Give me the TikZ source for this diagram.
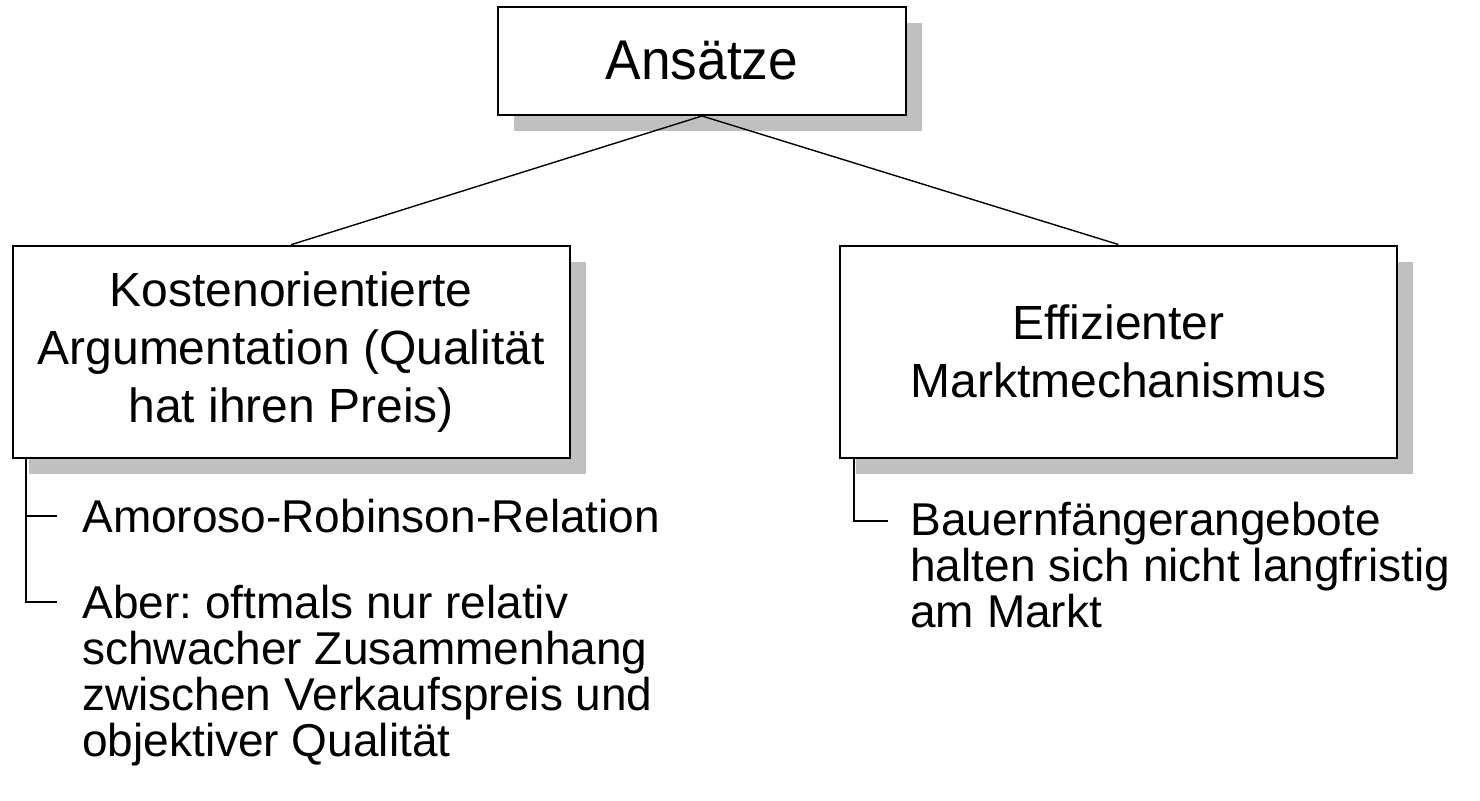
\documentclass[tikz,border=0pt]{standalone}
\usepackage{fontspec}
\setmainfont{Liberation Sans}
\newfontfamily\headfont[FakeStretch=0.95]{Liberation Sans}
\usetikzlibrary{shadows}
\definecolor{shadowgray}{RGB}{192,192,192}
\frenchspacing
\begin{document}
\begin{tikzpicture}[x=0.5pt,y=-0.5pt,
  card/.style={draw=black, line width=1pt, fill=white, inner sep=0pt, align=center,
    drop shadow={shadow xshift=8pt, shadow yshift=-8pt, fill=shadowgray, opacity=1}},
  conn/.style={draw=black, line width=0.7pt},
  brk/.style={draw=black, line width=0.8pt},
  item/.style={inner sep=0pt, align=left, font=\fontsize{23}{23}\selectfont}]
\useasboundingbox (0,0) rectangle (1480,800);

% boxes
\node[card, minimum width=204pt, minimum height=54pt, font=\headfont\fontsize{28}{34}\selectfont]
  (top) at (702,61) {Ansätze};
\node[card, minimum width=278.6pt, minimum height=106pt, font=\fontsize{24}{29}\selectfont]
  (left) at (291.1,351.7) {Kostenorientierte\\Argumentation (Qualität\\hat ihren Preis)};
\node[card, minimum width=278.6pt, minimum height=106pt, font=\fontsize{24}{29}\selectfont]
  (right) at (1118.4,351.5) {Effizienter\\Marktmechanismus};

% tree connectors
\draw[conn] (top.south) -- (left.north);
\draw[conn] (top.south) -- (right.north);

% sub-items
\node[item, anchor=west] (amo) at (82,516) {Amoroso-Robinson-Relation};
\node[item, anchor=north west] (aber) at (82,584.5)
  {Aber: oftmals nur relativ\\schwacher Zusammenhang\\zwischen Verkaufspreis und\\objektiver Qualität};
\node[item, anchor=north west] (bauer) at (910,501.5)
  {Bauernfängerangebote\\halten sich nicht langfristig\\am Markt};

% brackets
\coordinate (lroot) at ([xshift=7.25pt]left.south west);
\coordinate (ltick1) at (57,516);
\coordinate (ltick2) at (57,602);
\draw[brk] (lroot) |- (ltick2);
\draw[brk] (lroot |- ltick1) -- (ltick1);

\coordinate (rroot) at ([xshift=7.65pt]right.south west);
\coordinate (rtick) at (888,521);
\draw[brk] (rroot) |- (rtick);
\end{tikzpicture}
\end{document}
